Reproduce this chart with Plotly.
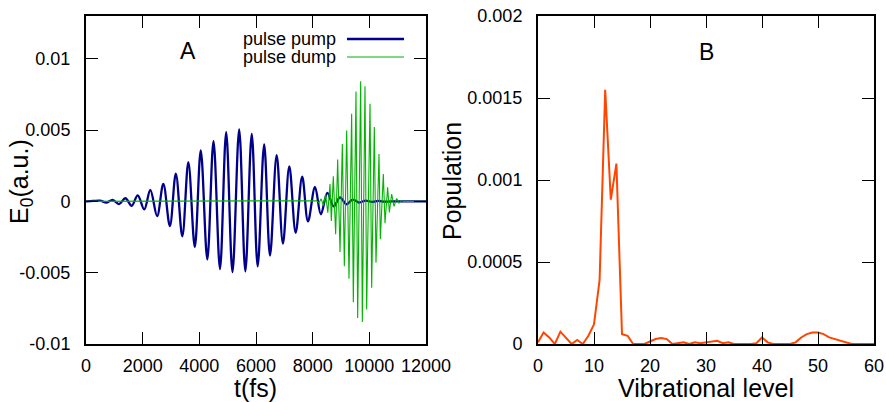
import plotly.graph_objects as go

# ---------------- data ----------------
# Panel A: pump pulse, extrema of the field (t in fs, E0 in a.u.)
pump_t = [0, 250, 494, 729, 940, 1165, 1390, 1612, 1825, 2055, 2270, 2510, 2729, 2960,
          3170, 3400, 3612, 3840, 4050, 4282, 4500, 4729, 4947, 5170, 5406, 5624, 5850,
          6059, 6288, 6494, 6729, 6950, 7176, 7400, 7630, 7835, 8082, 8290, 8520, 8745,
          8965, 9190, 9412, 9640, 9870, 10094, 10320, 10540, 10800, 12000]
pump_e = [0, 0.00003, 0.00005, -0.00008, 0.00011, -0.00019, 0.00022, -0.00031, 0.00042,
          -0.00056, 0.0008, -0.00103, 0.00123, -0.00173, 0.00195, -0.00245, 0.00275,
          -0.0032, 0.00358, -0.00407, 0.00422, -0.00474, 0.00486, -0.00496, 0.00505,
          -0.0049, 0.00473, -0.00456, 0.004, -0.0038, 0.00325, -0.00296, 0.00245, -0.0022,
          0.00174, -0.0014, 0.00101, -0.0009, 0.0006, -0.00035, 0.00028, -0.0002, 0.00012,
          -0.00008, 0.00006, -0.00004, 0.00003, -0.00002, 0, 0]

# Panel A: dump pulse, extrema of the field
dump_t = [0, 8000, 8144, 8222, 8300, 8378, 8456, 8534, 8612, 8659, 8729, 8812, 8882, 8965,
          9047, 9118, 9200, 9282, 9376, 9435, 9529, 9588, 9694, 9753, 9847, 9906, 10024,
          10082, 10176, 10235, 10341, 10388, 10494, 10553, 10647, 10706, 10788, 10871,
          10965, 11047, 11130, 11200, 12000]
dump_e = [0, 0, 0.00005, -0.0001, 0.00018, -0.0003, 0.0005, -0.0008, 0.00122, -0.00137,
          0.00176, -0.0023, 0.00293, -0.00355, 0.00403, -0.00454, 0.00497, -0.00542,
          0.00614, -0.00707, 0.00771, -0.00817, 0.00842, -0.00845, 0.00808, -0.00758,
          0.00685, -0.00606, 0.00521, -0.0043, 0.00333, -0.00265, 0.00192, -0.00153,
          0.00099, -0.00077, 0.00052, -0.00035, 0.0002, -0.00012, 0.00006, 0, 0]

# Panel B: population per vibrational level
levels = list(range(0, 61))
population = [0.00001, 0.00007, 0.00004, 0.0, 0.000075, 0.00004, 0.0, 0.000025, 0.0, 0.00005,
              0.00012, 0.00039, 0.00155, 0.00088, 0.0011, 0.00006, 0.00005, 0.0, 0.0, 0.0,
              0.000015, 0.00003, 0.000037, 0.00003, 0.0, 0.000005, 0.00001, 0.0, 0.00001,
              0.000005, 0.00001, 0.000015, 0.00002, 0.000005, 0.00001, 0.0, 0.0, 0.0, 0.0,
              0.000005, 0.00004, 0.00001, 0.0, 0.0, 0.0, 0.0, 0.00001, 0.00004, 0.00006,
              0.00007, 0.00007, 0.00006, 0.00004, 0.00003, 0.00002, 0.00001, 0.0, 0.0, 0.0,
              0.0, 0.0]

# tick labels
a_xticks = [0, 2000, 4000, 6000, 8000, 10000, 12000]
a_xtext = ["0", "2000", "4000", "6000", "8000", "10000", "12000"]
a_yticks = [-0.01, -0.005, 0, 0.005, 0.01]
a_ytext = ["-0.01", "-0.005", "0", "0.005", "0.01"]
b_xticks = [0, 10, 20, 30, 40, 50, 60]
b_xtext = ["0", "10", "20", "30", "40", "50", "60"]
b_yticks = [0, 0.0005, 0.001, 0.0015, 0.002]
b_ytext = ["0", "0.0005", "0.001", "0.0015", "0.002"]

# ---------------- figure ----------------
W, H = 886, 402
FONT = "Liberation Sans, Arial, sans-serif"
PUMP_C = "#00008b"
DUMP_C = "#00b400"
POP_C = "#ff4500"

fig = go.Figure()
fig.add_trace(go.Scatter(x=pump_t, y=pump_e, mode="lines", name="pulse pump",
                         line=dict(color=PUMP_C, width=2.3, shape="spline", smoothing=1.0),
                         xaxis="x", yaxis="y", showlegend=False))
fig.add_trace(go.Scatter(x=dump_t, y=dump_e, mode="lines", name="pulse dump",
                         line=dict(color=DUMP_C, width=1.1),
                         xaxis="x", yaxis="y", showlegend=False))
fig.add_trace(go.Scatter(x=levels, y=population, mode="lines", name="population",
                         line=dict(color=POP_C, width=2),
                         xaxis="x2", yaxis="y2", showlegend=False))

def px(x):
    return x / W

def py(y):
    return 1 - y / H

axis_common = dict(showline=True, linecolor="black", linewidth=2, mirror="ticks",
                   ticks="inside", ticklen=12, tickwidth=1, tickcolor="black",
                   showgrid=False, zeroline=False, automargin=False,
                   tickfont=dict(family=FONT, size=18, color="black"))

fig.update_layout(
    width=W, height=H,
    margin=dict(l=0, r=0, t=0, b=0),
    paper_bgcolor="white", plot_bgcolor="white",
    font=dict(family=FONT, color="black"),
    xaxis=dict(domain=[px(86), px(426)], range=[0, 12000], tickvals=a_xticks,
               ticktext=a_xtext, ticklabelstandoff=4, anchor="y", **axis_common),
    yaxis=dict(domain=[py(344), py(16)], range=[-0.01, 0.013], tickvals=a_yticks,
               ticktext=a_ytext, ticklabelstandoff=10, anchor="x", **axis_common),
    xaxis2=dict(domain=[px(538), px(874)], range=[0, 60], tickvals=b_xticks,
                ticktext=b_xtext, ticklabelstandoff=4, anchor="y2", **axis_common),
    yaxis2=dict(domain=[py(344), py(16)], range=[0, 0.002], tickvals=b_yticks,
                ticktext=b_ytext, ticklabelstandoff=10, anchor="x2", **axis_common),
)

def label(text, x, y, size, angle=0, xanchor="center"):
    fig.add_annotation(x=px(x), y=py(y), xref="paper", yref="paper", text=text,
                       showarrow=False, xanchor=xanchor, yanchor="middle", textangle=angle,
                       borderpad=0, font=dict(family=FONT, size=size, color="black"))

# axis titles
label("t(fs)", 256, 388, 25)
label("Vibrational level", 706, 388, 25)
label("E<sub>0</sub>(a.u.)", 21, 182, 25, angle=-90)
label("Population", 452, 181, 25, angle=-90)

# panel labels
label("A", 188, 51, 23)
label("B", 706, 52, 23)

# legend (gnuplot style: text on the left, sample on the right)
legend_items = [("pulse pump", PUMP_C, 2.5, 39), ("pulse dump", DUMP_C, 1.2, 57)]
for text, col, lw, yy in legend_items:
    label(text, 337, yy, 18, xanchor="right")
    fig.add_shape(type="line", xref="paper", yref="paper", x0=px(347), x1=px(404),
                  y0=py(yy), y1=py(yy), line=dict(color=col, width=lw))

fig.write_html("out.html")
